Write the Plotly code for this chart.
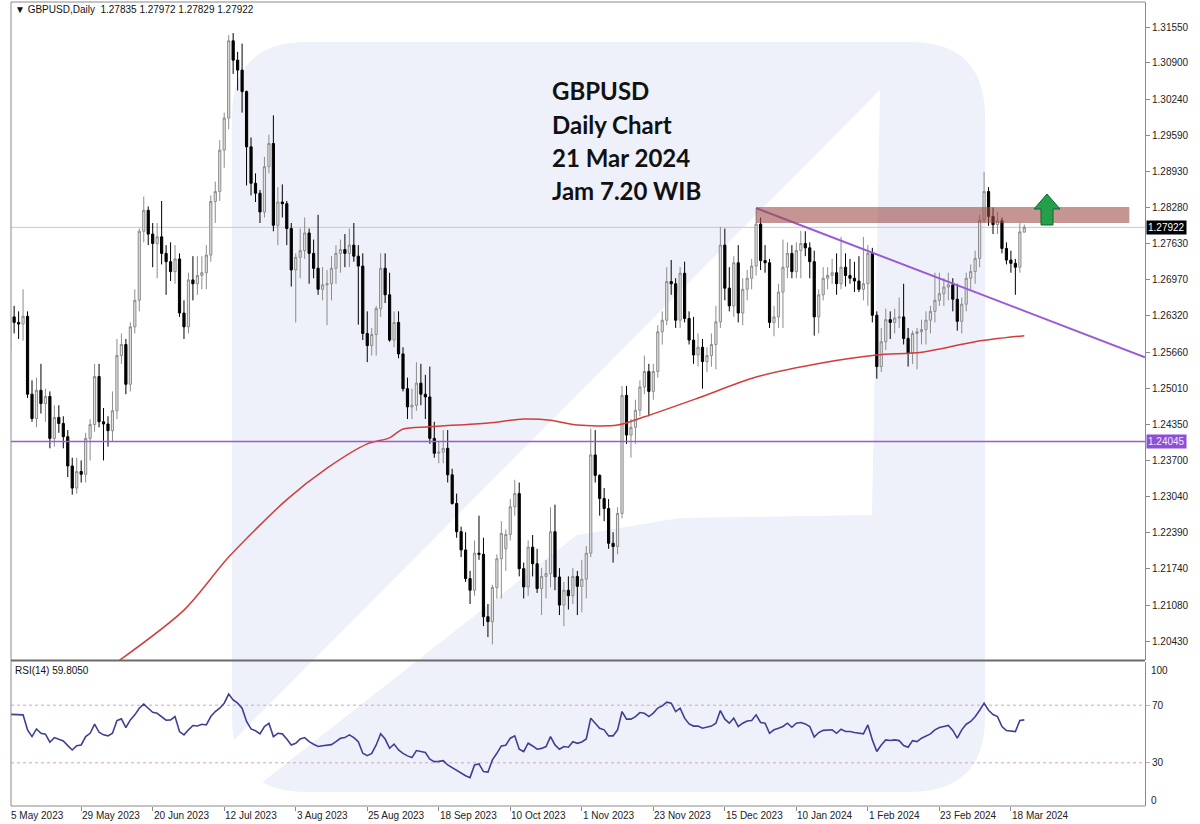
import plotly.graph_objects as go

# ---------------- data ----------------
label_bars = [0, 16, 32, 48, 64, 80, 96, 112, 128, 144, 160, 176, 192, 208, 224]
date_labels = ["5 May 2023", "29 May 2023", "20 Jun 2023", "12 Jul 2023", "3 Aug 2023",
               "25 Aug 2023", "18 Sep 2023", "10 Oct 2023", "1 Nov 2023", "23 Nov 2023",
               "15 Dec 2023", "10 Jan 2024", "1 Feb 2024", "23 Feb 2024", "18 Mar 2024"]
price_ticks = [1.31550, 1.30900, 1.30240, 1.29590, 1.28930, 1.28280, 1.27630, 1.26970,
               1.26320, 1.25660, 1.25010, 1.24350, 1.23700, 1.23040, 1.22390, 1.21740,
               1.21080, 1.20430]

open_ = [1.2570,1.2630,1.2620,1.2617,1.2631,1.2490,1.2446,1.2497,1.2473,1.2486,
1.2410,1.2448,1.2437,1.2413,1.2360,1.2320,1.2350,1.2345,1.2410,1.2435,
1.2522,1.2440,1.2436,1.2424,1.2460,1.2560,1.2580,1.2508,1.2612,1.2660,
1.2785,1.2823,1.2780,1.2763,1.2775,1.2745,1.2730,1.2712,1.2735,1.2637,
1.2612,1.2697,1.2690,1.2705,1.2710,1.2742,1.2839,1.2857,1.2932,1.2990,
1.3130,1.3095,1.3077,1.3038,1.2938,1.2872,1.2854,1.2820,1.2902,1.2944,
1.2796,1.2838,1.2835,1.2790,1.2715,1.2738,1.2750,1.2782,1.2745,1.2718,
1.2680,1.2688,1.2690,1.2718,1.2745,1.2752,1.2745,1.2760,1.2740,1.2722,
1.2600,1.2578,1.2598,1.2645,1.2718,1.2670,1.2588,1.2620,1.2563,1.2500,
1.2467,1.2470,1.2510,1.2490,1.2485,1.2410,1.2383,1.2385,1.2392,1.2344,
1.2292,1.2241,1.2208,1.2156,1.2135,1.2202,1.2200,1.2087,1.2078,1.2140,
1.2192,1.2210,1.2236,1.2286,1.2310,1.2174,1.2141,1.2213,1.2183,1.2138,
1.2160,1.2165,1.2241,1.2159,1.2108,1.2135,1.2125,1.2160,1.2142,1.2155,
1.2202,1.2380,1.2343,1.2301,1.2283,1.2220,1.2214,1.2274,1.2488,1.2416,
1.2430,1.2461,1.2503,1.2531,1.2495,1.2531,1.2603,1.2624,1.2694,1.2690,
1.2624,1.2709,1.2627,1.2588,1.2561,1.2575,1.2549,1.2560,1.2580,1.2621,
1.2760,1.2682,1.2650,1.2728,1.2637,1.2680,1.2700,1.2722,1.2798,1.2732,
1.2728,1.2620,1.2630,1.2675,1.2720,1.2745,1.2712,1.2750,1.2763,1.2755,
1.2730,1.2630,1.2670,1.2700,1.2705,1.2710,1.2690,1.2720,1.2705,1.2700,
1.2695,1.2680,1.2690,1.2745,1.2633,1.2540,1.2585,1.2625,1.2620,1.2628,
1.2630,1.2591,1.2564,1.2600,1.2603,1.2607,1.2624,1.2640,1.2660,1.2672,
1.2684,1.2688,1.2662,1.2622,1.2653,1.2700,1.2712,1.2736,1.2805,1.2857,
1.2812,1.2797,1.2804,1.2754,1.2733,1.2727,1.2720,1.27835]

high_ = [1.2668,1.2650,1.2640,1.2680,1.2640,1.2515,1.2520,1.2545,1.2500,1.2495,
1.2470,1.2470,1.2450,1.2425,1.2375,1.2375,1.2370,1.2420,1.2445,1.2545,
1.2545,1.2465,1.2450,1.2495,1.2590,1.2600,1.2590,1.2620,1.2680,1.2790,
1.2848,1.2830,1.2800,1.2800,1.2840,1.2760,1.2765,1.2760,1.2745,1.2660,
1.2710,1.2740,1.2740,1.2740,1.2760,1.2850,1.2875,1.2950,1.3000,1.3140,
1.3144,1.3110,1.3125,1.3040,1.2955,1.2890,1.2860,1.2920,1.2960,1.2995,
1.2865,1.2870,1.2840,1.2800,1.2745,1.2790,1.2810,1.2790,1.2770,1.2815,
1.2720,1.2715,1.2740,1.2760,1.2770,1.2780,1.2790,1.2800,1.2760,1.2745,
1.2640,1.2610,1.2650,1.2745,1.2745,1.2710,1.2640,1.2640,1.2575,1.2520,
1.2500,1.2548,1.2545,1.2525,1.2540,1.2440,1.2405,1.2425,1.2425,1.2355,
1.2310,1.2250,1.2240,1.2170,1.2225,1.2270,1.2230,1.2110,1.2145,1.2200,
1.2260,1.2245,1.2300,1.2335,1.2330,1.2185,1.2225,1.2235,1.2210,1.2175,
1.2190,1.2285,1.2290,1.2175,1.2150,1.2160,1.2175,1.2170,1.2190,1.2215,
1.2428,1.2425,1.2345,1.2320,1.2300,1.2240,1.2285,1.2505,1.2505,1.2445,
1.2480,1.2515,1.2560,1.2545,1.2545,1.2615,1.2640,1.2720,1.2733,1.2700,
1.2720,1.2730,1.2640,1.2630,1.2600,1.2590,1.2575,1.2600,1.2650,1.2793,
1.2790,1.2720,1.2740,1.2760,1.2700,1.2715,1.2735,1.2827,1.2810,1.2760,
1.2735,1.2650,1.2690,1.2770,1.2765,1.2760,1.2765,1.2786,1.2785,1.2765,
1.2750,1.2680,1.2720,1.2720,1.2735,1.2745,1.2775,1.2745,1.2735,1.2730,
1.2740,1.2775,1.2760,1.2755,1.2640,1.2610,1.2645,1.2640,1.2645,1.2665,
1.2690,1.2610,1.2605,1.2610,1.2625,1.2640,1.2650,1.2710,1.2710,1.2700,
1.2710,1.2700,1.2690,1.2665,1.2710,1.2725,1.2750,1.2815,1.2893,1.2865,
1.2828,1.2820,1.2810,1.2765,1.2750,1.2735,1.2800,1.27972]

low_ = [1.2555,1.2600,1.2590,1.2587,1.2483,1.2440,1.2430,1.2455,1.2440,1.2392,
1.2395,1.2420,1.2392,1.2340,1.2308,1.2310,1.2330,1.2330,1.2370,1.2422,
1.2430,1.2370,1.2395,1.2405,1.2445,1.2545,1.2490,1.2495,1.2600,1.2640,
1.2765,1.2760,1.2720,1.2700,1.2725,1.2670,1.2695,1.2690,1.2630,1.2590,
1.2600,1.2660,1.2670,1.2680,1.2680,1.2730,1.2800,1.2840,1.2900,1.2970,
1.3070,1.3040,1.3000,1.2868,1.2850,1.2838,1.2800,1.2810,1.2890,1.2785,
1.2760,1.2810,1.2760,1.2685,1.2620,1.2700,1.2735,1.2690,1.2700,1.2670,
1.2660,1.2615,1.2660,1.2690,1.2710,1.2720,1.2720,1.2730,1.2616,1.2588,
1.2548,1.2560,1.2560,1.2630,1.2655,1.2585,1.2575,1.2555,1.2495,1.2445,
1.2445,1.2460,1.2470,1.2445,1.2400,1.2375,1.2365,1.2365,1.2330,1.2290,
1.2230,1.2195,1.2150,1.2110,1.2125,1.2190,1.2070,1.2050,1.2037,1.2120,
1.2120,1.2170,1.2225,1.2270,1.2160,1.2120,1.2125,1.2160,1.2130,1.2090,
1.2120,1.2140,1.2135,1.2090,1.2070,1.2100,1.2110,1.2090,1.2095,1.2120,
1.2195,1.2330,1.2270,1.2260,1.2210,1.2185,1.2200,1.2265,1.2400,1.2375,
1.2400,1.2450,1.2490,1.2450,1.2480,1.2520,1.2580,1.2615,1.2670,1.2610,
1.2610,1.2620,1.2580,1.2545,1.2540,1.2500,1.2530,1.2540,1.2535,1.2610,
1.2660,1.2640,1.2630,1.2620,1.2615,1.2660,1.2680,1.2705,1.2715,1.2710,
1.2610,1.2595,1.2610,1.2610,1.2700,1.2700,1.2700,1.2700,1.2740,1.2700,
1.2596,1.2600,1.2660,1.2680,1.2690,1.2670,1.2680,1.2685,1.2690,1.2675,
1.2675,1.2660,1.2650,1.2620,1.2518,1.2530,1.2570,1.2590,1.2600,1.2610,
1.2580,1.2540,1.2545,1.2535,1.2580,1.2580,1.2600,1.2620,1.2650,1.2650,
1.2660,1.2640,1.2605,1.2600,1.2640,1.2680,1.2690,1.2720,1.2800,1.2795,
1.2780,1.2780,1.2745,1.2725,1.2710,1.2670,1.2710,1.27829]

close_ = [1.2630,1.2620,1.2617,1.2631,1.2490,1.2446,1.2497,1.2473,1.2486,1.2410,
1.2448,1.2437,1.2413,1.2360,1.2320,1.2350,1.2345,1.2410,1.2435,1.2522,
1.2440,1.2436,1.2424,1.2460,1.2560,1.2580,1.2508,1.2612,1.2660,1.2785,
1.2823,1.2780,1.2763,1.2775,1.2745,1.2730,1.2712,1.2735,1.2637,1.2612,
1.2697,1.2690,1.2705,1.2710,1.2742,1.2839,1.2857,1.2932,1.2990,1.3130,
1.3095,1.3077,1.3038,1.2938,1.2872,1.2854,1.2820,1.2902,1.2944,1.2796,
1.2838,1.2835,1.2790,1.2715,1.2738,1.2750,1.2782,1.2745,1.2718,1.2680,
1.2688,1.2690,1.2718,1.2745,1.2752,1.2745,1.2760,1.2740,1.2722,1.2600,
1.2578,1.2598,1.2645,1.2718,1.2670,1.2588,1.2620,1.2563,1.2500,1.2467,
1.2470,1.2510,1.2490,1.2485,1.2410,1.2383,1.2385,1.2392,1.2344,1.2292,
1.2241,1.2208,1.2156,1.2135,1.2202,1.2200,1.2087,1.2078,1.2140,1.2192,
1.2238,1.2236,1.2286,1.2310,1.2174,1.2141,1.2213,1.2183,1.2138,1.2160,
1.2165,1.2241,1.2159,1.2108,1.2135,1.2125,1.2160,1.2142,1.2155,1.2202,
1.2380,1.2343,1.2301,1.2283,1.2220,1.2214,1.2274,1.2488,1.2416,1.2430,
1.2461,1.2503,1.2531,1.2495,1.2531,1.2603,1.2624,1.2694,1.2690,1.2624,
1.2709,1.2627,1.2588,1.2561,1.2575,1.2549,1.2560,1.2580,1.2621,1.2760,
1.2682,1.2650,1.2728,1.2637,1.2680,1.2700,1.2722,1.2798,1.2732,1.2728,
1.2620,1.2630,1.2675,1.2720,1.2745,1.2712,1.2750,1.2763,1.2755,1.2730,
1.2630,1.2670,1.2700,1.2705,1.2710,1.2690,1.2720,1.2705,1.2700,1.2695,
1.2680,1.2690,1.2745,1.2633,1.2540,1.2585,1.2625,1.2620,1.2628,1.2630,
1.2591,1.2564,1.2600,1.2603,1.2607,1.2624,1.2640,1.2660,1.2672,1.2684,
1.2688,1.2662,1.2622,1.2653,1.2700,1.2712,1.2736,1.2805,1.2857,1.2812,
1.2797,1.2804,1.2754,1.2733,1.2727,1.2720,1.2784,1.27922]

bars = list(range(len(close_)))

ma_bars = [22, 39, 49, 62, 71, 80, 85, 88, 94, 107, 115, 121, 127, 136, 142, 154, 167, 182, 194, 204, 216, 227]
ma_vals = [1.1993, 1.2099, 1.2195, 1.2299, 1.2356, 1.2400, 1.2411, 1.2427, 1.2431, 1.2438, 1.2445,
           1.2443, 1.2434, 1.2434, 1.2449, 1.2483, 1.2521, 1.2547, 1.2561, 1.2566, 1.2585, 1.2596]

rsi_bars = list(range(0, 228))
rsi_vals = [63.7,63.5,63.5,63.3,52.9,48.2,53.5,50.5,49.9,44.3,
47.5,46.6,45.2,41.9,38.9,41.9,42.4,48.2,50.5,56.8,
51.2,49.4,48.7,50.5,59.3,60.5,54.5,59.8,63.3,67.9,
70.7,67.9,65.1,64.4,62.1,59.6,59.8,62.1,51.7,49.4,
52.9,55.9,55.6,56.8,56.3,62.1,65.6,67.9,71.4,77.7,
73.7,71.4,67.9,58.7,53.5,52.2,50.1,55.2,57.5,48.2,
50.5,50.1,46.6,42.4,43.5,46.6,47.5,44.7,42.9,41.3,
41.8,42.4,42.6,44.7,47.0,47.5,49.4,47.5,44.7,36.6,
35.0,36.5,42.4,50.2,46.5,40.1,43.0,38.9,36.5,34.8,
33.6,38.5,37.8,37.1,32.5,30.8,31.0,31.5,28.5,26.5,
25.0,22.7,21.0,19.7,28.5,29.2,23.9,23.5,32.0,36.6,
41.7,42.2,47.1,48.7,39.4,37.8,43.6,41.7,39.4,40.0,
41.3,48.2,42.4,39.4,41.3,40.8,44.7,43.5,44.5,46.5,
61.0,57.5,54.0,52.9,48.7,48.7,52.9,65.6,60.3,60.3,
62.1,64.9,64.4,62.1,64.5,68.0,69.5,72.1,71.4,65.6,
67.9,61.0,57.0,55.5,55.5,54.0,54.7,55.5,57.5,66.3,
60.3,57.5,61.0,55.2,57.5,59.0,59.4,63.3,58.0,57.5,
50.5,52.9,54.0,55.2,57.5,54.7,57.5,58.0,57.0,55.2,
47.8,51.0,52.5,52.9,52.9,50.5,53.3,51.7,51.7,51.0,
50.6,50.1,56.3,45.9,37.8,42.4,45.9,45.5,45.9,45.4,
42.0,40.8,45.4,44.7,47.1,48.5,50.1,52.9,54.5,55.2,
55.9,52.5,47.1,52.9,56.8,58.7,62.0,66.5,71.4,66.5,
63.5,62.1,55.2,52.4,52.0,51.7,59.4,59.8]

trend_x = [167, 254]
trend_y = [1.2827, 1.2557]
zone_x = [167, 250.5]
zone_y = [1.2800, 1.2829]
support_level = 1.24045
last_price = 1.27922
rsi_levels = [70, 30]
header_text = "\u25bc GBPUSD,Daily  1.27835 1.27972 1.27829 1.27922"
rsi_text = "RSI(14) 59.8050"
title_lines = ["GBPUSD", "Daily Chart", "21 Mar 2024", "Jam 7.20 WIB"]

# ---------------- layout geometry ----------------
W, H = 1200, 824
ML, MR, MT, MB = 11, 55, 2, 18
PW = W - ML - MR
PH = H - MT - MB
XR = [0.3, 254]
Y_MAIN = [1.20086, 1.32003]
MAIN_DOM = [(H - MB - 660) / PH, 1.0]
RSI_DOM = [0.0, (H - MB - 662) / PH]


def px(x):
    return (x - ML) / PW


def py(y):
    return (H - MB - y) / PH


def bar_to_paper(b):
    return (b - XR[0]) / (XR[1] - XR[0])


def path(points, close=True):
    s = "M " + " L ".join(f"{px(a):.5f},{py(b):.5f}" for a, b in points)
    return s + (" Z" if close else "")


def rounded_rect(x0, y0, x1, y1, r):
    p = lambda a, b: f"{px(a):.5f},{py(b):.5f}"
    return (f"M {p(x0 + r, y0)} L {p(x1 - r, y0)} Q {p(x1, y0)} {p(x1, y0 + r)} "
            f"L {p(x1, y1 - r)} Q {p(x1, y1)} {p(x1 - r, y1)} L {p(x0 + r, y1)} "
            f"Q {p(x0, y1)} {p(x0, y1 - r)} L {p(x0, y0 + r)} Q {p(x0, y0)} {p(x0 + r, y0)} Z")


fig = go.Figure()

fig.add_trace(go.Candlestick(
    x=bars, open=open_, high=high_, low=low_, close=close_,
    increasing=dict(line=dict(color="#8c8c8c", width=1), fillcolor="#e2e2e2"),
    decreasing=dict(line=dict(color="#000000", width=1), fillcolor="#000000"),
    whiskerwidth=0, xaxis="x", yaxis="y", showlegend=False, hoverinfo="skip"))

fig.add_trace(go.Scatter(
    x=ma_bars, y=ma_vals, mode="lines", line=dict(color="#d23c3c", width=1.5, shape="spline", smoothing=0.8),
    xaxis="x", yaxis="y", showlegend=False, hoverinfo="skip"))

fig.add_trace(go.Scatter(
    x=trend_x, y=trend_y, mode="lines", line=dict(color="#9a5ad8", width=2),
    xaxis="x", yaxis="y", showlegend=False, hoverinfo="skip", cliponaxis=True))

fig.add_trace(go.Scatter(
    x=rsi_bars, y=rsi_vals, mode="lines", line=dict(color="#3f3f96", width=1.6),
    xaxis="x2", yaxis="y2", showlegend=False, hoverinfo="skip"))

shapes = []
# watermark
shapes.append(dict(type="path", xref="paper", yref="paper", layer="below",
                   path=rounded_rect(232, 42, 985, 792, 75),
                   fillcolor="#eef1f9", line=dict(width=0)))
shapes.append(dict(type="path", xref="paper", yref="paper", layer="below",
                   path=path([(232, 742), (880, 90), (872, 515), (680, 518), (577, 535), (250, 792), (232, 792)]),
                   fillcolor="#ffffff", line=dict(width=0)))
# last price line
shapes.append(dict(type="line", xref="paper", yref="y", x0=0, x1=1, y0=last_price, y1=last_price,
                   layer="below", line=dict(color="#c8c8c8", width=1)))
# support line
shapes.append(dict(type="line", xref="paper", yref="y", x0=0, x1=1, y0=support_level, y1=support_level,
                   layer="above", line=dict(color="#9a5ad8", width=1.5)))
# resistance zone
shapes.append(dict(type="rect", xref="x", yref="y", x0=zone_x[0], x1=zone_x[1], y0=zone_y[0], y1=zone_y[1],
                   layer="above", fillcolor="#9c4f4a", opacity=0.6, line=dict(width=0)))
# rsi levels
for lv in rsi_levels:
    shapes.append(dict(type="line", xref="paper", yref="y2", x0=0, x1=1, y0=lv, y1=lv, layer="below",
                       line=dict(color="#d9a0c8", width=1, dash="dot")))
# green arrow
shapes.append(dict(type="path", xref="paper", yref="paper", layer="above",
                   path=path([(1047, 194), (1060, 209), (1053, 209), (1053, 225), (1041, 225), (1041, 209), (1034, 209)]),
                   fillcolor="#22a04a", line=dict(color="#14632b", width=1)))
# frames
shapes.append(dict(type="line", xref="paper", yref="paper", x0=0, x1=0, y0=0, y1=1,
                   line=dict(color="#8a8a8a", width=1)))
shapes.append(dict(type="line", xref="paper", yref="paper", x0=0, x1=1, y0=1, y1=1,
                   line=dict(color="#8a8a8a", width=1)))
shapes.append(dict(type="line", xref="paper", yref="paper", x0=0, x1=1, y0=py(660.5), y1=py(660.5),
                   line=dict(color="#6a6a6a", width=2)))
shapes.append(dict(type="line", xref="paper", yref="paper", x0=0, x1=1, y0=0, y1=0,
                   line=dict(color="#8a8a8a", width=1)))

annotations = []
annotations.append(dict(xref="paper", yref="paper", x=px(13), y=py(10), xanchor="left", yanchor="middle",
                        text=header_text, showarrow=False,
                        font=dict(family="Liberation Sans, Arial", size=10, color="#111")))
annotations.append(dict(xref="paper", yref="paper", x=px(13), y=py(670), xanchor="left", yanchor="middle",
                        text=rsi_text, showarrow=False,
                        font=dict(family="Liberation Sans, Arial", size=10, color="#111")))
for i, line in enumerate(title_lines):
    annotations.append(dict(xref="paper", yref="paper", x=px(550), y=py(91 + i * 33.3), xanchor="left",
                            yanchor="middle", text=f"<b>{line}</b>", showarrow=False,
                            font=dict(family="Lato, Open Sans, sans-serif", size=24, color="#111")))
for b, lab in zip(label_bars, date_labels):
    annotations.append(dict(xref="paper", yref="paper", x=bar_to_paper(b), y=py(808), xanchor="left",
                            yanchor="top", xshift=-1, text=lab, showarrow=False,
                            font=dict(family="Liberation Sans, Arial", size=10, color="#222")))
annotations.append(dict(xref="paper", yref="y", x=1 + 1 / PW, y=last_price, xanchor="left", yanchor="middle",
                        text="1.27922", showarrow=False, bgcolor="#000000", borderpad=1,
                        font=dict(family="Liberation Sans, Arial", size=10, color="#ffffff")))
annotations.append(dict(xref="paper", yref="y", x=1 + 1 / PW, y=support_level, xanchor="left", yanchor="middle",
                        text="1.24045", showarrow=False, bgcolor="#8e4fd6", borderpad=1,
                        font=dict(family="Liberation Sans, Arial", size=10, color="#f2e8ff")))
for val, yy in [("100", 670), ("0", 800)]:
    annotations.append(dict(xref="paper", yref="paper", x=1 + 4 / PW, y=py(yy), xanchor="left", yanchor="middle",
                            text=val, showarrow=False,
                            font=dict(family="Liberation Sans, Arial", size=10, color="#222")))

tickfont = dict(family="Liberation Sans, Arial", size=10, color="#222")
fig.update_layout(
    width=W, height=H, margin=dict(l=ML, r=MR, t=MT, b=MB),
    paper_bgcolor="#ffffff", plot_bgcolor="#ffffff",
    showlegend=False,
    xaxis=dict(domain=[0, 1], range=XR, anchor="y", showticklabels=False, showgrid=False, zeroline=False,
               ticks="", rangeslider=dict(visible=False), showline=False),
    yaxis=dict(domain=MAIN_DOM, range=Y_MAIN, anchor="x", side="right", showgrid=False, zeroline=False,
               tickvals=price_ticks, ticktext=[f"{v:.5f}" for v in price_ticks], ticks="outside",
               ticklen=4, tickcolor="#8a8a8a", showline=True, linecolor="#8a8a8a", linewidth=1,
               tickfont=tickfont),
    xaxis2=dict(domain=[0, 1], range=XR, anchor="y2", showticklabels=False, showgrid=False, zeroline=False,
                tickvals=label_bars, ticks="outside", ticklen=4, tickcolor="#8a8a8a", showline=False),
    yaxis2=dict(domain=RSI_DOM, range=[0, 100], anchor="x2", side="right", showgrid=False, zeroline=False,
                tickvals=rsi_levels, ticktext=[str(v) for v in rsi_levels], ticks="outside", ticklen=4,
                tickcolor="#d9a0c8", showline=True, linecolor="#8a8a8a", linewidth=1, tickfont=tickfont),
    shapes=shapes, annotations=annotations,
)

fig.write_html("out.html", config={"displayModeBar": False},
               post_script="document.body.style.margin='0px';document.body.style.padding='0px';")
